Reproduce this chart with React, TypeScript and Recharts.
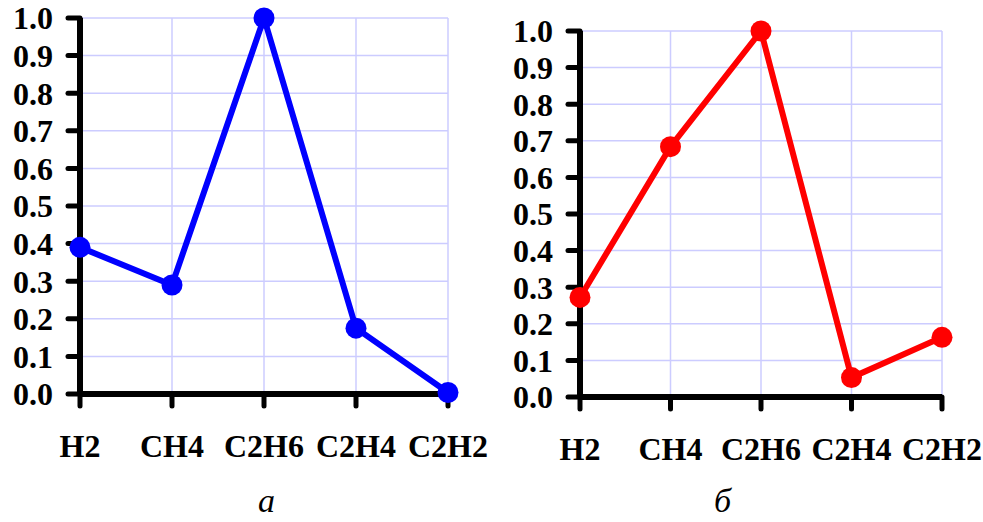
import { LineChart, Line, XAxis, YAxis, CartesianGrid } from 'recharts';

// gases on the x axis (same for both panels)
const gases = ['H2', 'CH4', 'C2H6', 'C2H4', 'C2H2'];

// relative values
const valuesA = [0.39, 0.29, 1.0, 0.175, 0.004];
const valuesB = [0.272, 0.684, 1.0, 0.053, 0.163];

const yTicks = [0, 0.1, 0.2, 0.3, 0.4, 0.5, 0.6, 0.7, 0.8, 0.9, 1.0];

const FONT = "'Liberation Serif', 'Times New Roman', serif";

const buildData = (values: number[]) =>
  gases.map((gas, i) => ({ gas, value: values[i] }));

const tickStyle = { fill: '#000', fontSize: 32, fontWeight: 700, fontFamily: FONT };
const axisStyle = { stroke: '#000', strokeWidth: 6 };
const tickLineStyle = { stroke: '#000', strokeWidth: 5, strokeLinecap: 'round' as const };

type PanelProps = {
  values: number[];
  color: string;
  left: number;
  width: number;
  top: number;
  bottom: number;
  right: number;
};

const Panel = ({ values, color, left, width, top, bottom, right }: PanelProps) => (
  <div style={{ position: 'absolute', left, top: 0 }}>
    <LineChart
      width={width}
      height={470}
      data={buildData(values)}
      margin={{ top, right, left: 0, bottom }}
    >
      <CartesianGrid stroke="#ccccff" strokeWidth={1.5} />
      <XAxis
        dataKey="gas"
        interval={0}
        tick={tickStyle}
        axisLine={axisStyle}
        tickLine={tickLineStyle}
        tickSize={12}
        tickMargin={28}
        height={60}
      />
      <YAxis
        domain={[0, 1]}
        ticks={yTicks}
        interval={0}
        tickFormatter={(v: number) => v.toFixed(1)}
        tick={tickStyle}
        axisLine={axisStyle}
        tickLine={tickLineStyle}
        tickSize={12}
        tickMargin={15}
        width={80}
      />
      <Line
        type="linear"
        dataKey="value"
        stroke={color}
        strokeWidth={6}
        dot={{ r: 10.5, fill: color, stroke: color, strokeWidth: 0 }}
        isAnimationActive={false}
      />
    </LineChart>
  </div>
);

const captionStyle = {
  position: 'absolute' as const,
  top: 482,
  fontSize: 34,
  fontStyle: 'italic',
};

const App = () => {
  return (
    <div
      style={{
        position: 'absolute',
        left: 0,
        top: 0,
        width: 983,
        height: 522,
        background: '#fff',
        fontFamily: FONT,
      }}
    >
      {/* panel а */}
      <Panel values={valuesA} color="#0000ff" left={0} width={500} top={18} right={52} bottom={16} />
      {/* panel б */}
      <Panel values={valuesB} color="#ff0000" left={500} width={483} top={31} right={41} bottom={13} />

      <div style={{ ...captionStyle, left: 258 }}>а</div>
      <div style={{ ...captionStyle, left: 714 }}>б</div>
    </div>
  );
};

export default App;
